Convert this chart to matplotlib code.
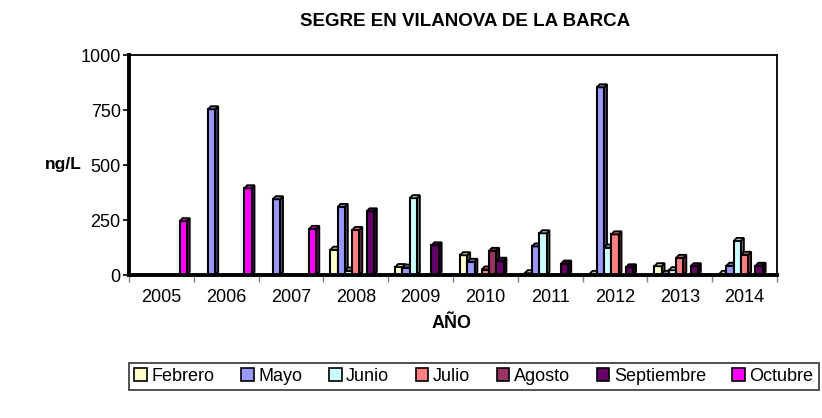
import numpy as np
import matplotlib
matplotlib.use('Agg')
import matplotlib.pyplot as plt
from matplotlib.patches import Polygon, Patch
import matplotlib.colors as mcolors

plt.rcParams['font.family'] = ['Liberation Sans', 'DejaVu Sans']

# --- DATA ---
years = ['2005', '2006', '2007', '2008', '2009', '2010', '2011', '2012', '2013', '2014']
months = ['Febrero', 'Mayo', 'Junio', 'Julio', 'Agosto', 'Septiembre', 'Octubre']

febrero    = [0, 0, 0, 115, 36, 90, 8, 5, 40, 5]
mayo       = [0, 755, 345, 310, 34, 60, 130, 855, 5, 42]
junio      = [0, 0, 0, 20, 350, 0, 190, 125, 22, 155]
julio      = [0, 0, 0, 205, 0, 25, 0, 185, 78, 92]
agosto     = [0, 0, 0, 0, 0, 110, 0, 0, 0, 0]
septiembre = [0, 0, 0, 290, 135, 65, 52, 35, 40, 42]
octubre    = [245, 395, 210, 0, 0, 0, 0, 0, 0, 0]

series = [febrero, mayo, junio, julio, agosto, septiembre, octubre]
colors = ['#FFFFCC', '#9999FF', '#CCFFFF', '#FF8080', '#993366', '#660066', '#FF00FF']

y_ticks = [0, 250, 500, 750, 1000]


def shade(c, f):
    r, g, b = mcolors.to_rgb(c)
    return (r * f, g * f, b * f)


fig = plt.figure(figsize=(8.22, 4.18), dpi=100)
ax = fig.add_axes([129 / 822, 1 - 275 / 418, 648 / 822, 219.5 / 418])

x = np.arange(len(years))
w = 0.112
dx, dy = 0.045, 14  # fake 3d depth

for i, (vals, col) in enumerate(zip(series, colors)):
    cx = x + (i - 3) * w
    ax.bar(cx, vals, width=w, color=col, edgecolor='black', linewidth=1.5, zorder=3)
    for c, v in zip(cx, vals):
        if v <= 0:
            continue
        l, r = c - w / 2, c + w / 2
        top = Polygon([(l, v), (r, v), (r + dx, v + dy), (l + dx, v + dy)], closed=True,
                      facecolor=shade(col, 0.75), edgecolor='black', linewidth=1.3, zorder=3)
        side = Polygon([(r, 0), (r + dx, dy), (r + dx, v + dy), (r, v)], closed=True,
                       facecolor=shade(col, 0.5), edgecolor='black', linewidth=1.3, zorder=2)
        ax.add_patch(side)
        ax.add_patch(top)

ax.set_xlim(-0.5, len(years) - 0.5)
ax.set_ylim(0, 1000)
ax.set_yticks(y_ticks)
ax.set_yticklabels([str(t) for t in y_ticks], fontsize=13)

# ticks between categories, labels at the centres
ax.set_xticks(np.arange(len(years) + 1) - 0.5)
ax.set_xticklabels([])
ax.set_xticks(x, minor=True)
ax.set_xticklabels(years, minor=True, fontsize=13)
ax.tick_params(axis='x', which='major', length=5, color='gray', width=1)
ax.tick_params(axis='x', which='minor', length=0, pad=10)
ax.tick_params(axis='y', length=4, width=1.2, pad=2)

ax.spines['left'].set_linewidth(2.8)
ax.spines['bottom'].set_linewidth(2.8)
ax.spines['top'].set_linewidth(1.3)
ax.spines['right'].set_linewidth(1.3)
ax.spines['bottom'].set_zorder(5)

fig.text(465 / 822, 1 - 22 / 418, 'SEGRE EN VILANOVA DE LA BARCA', ha='center', va='center',
         fontsize=13.5, fontweight='bold')
fig.text(82 / 822, 1 - 165 / 418, 'ng/L', ha='right', va='center', fontsize=12.5, fontweight='bold')
fig.text(452 / 822, 1 - 323 / 418, 'AÑO', ha='center', va='center', fontsize=13, fontweight='bold')

handles = [Patch(facecolor=c, edgecolor='black', linewidth=1.2) for c in colors]
leg = fig.legend(handles, months, loc='center', ncol=7,
                 bbox_to_anchor=(129 / 822, 1 - 391 / 418, 690 / 822, 29 / 418),
                 mode='expand', fontsize=13, frameon=True, fancybox=False,
                 handlelength=0.7, handleheight=0.7, handletextpad=0.25,
                 columnspacing=0.4, borderpad=0.3, borderaxespad=0)
leg.get_frame().set_edgecolor('black')
leg.get_frame().set_linewidth(1.2)

fig.savefig('out.png', dpi=100)
